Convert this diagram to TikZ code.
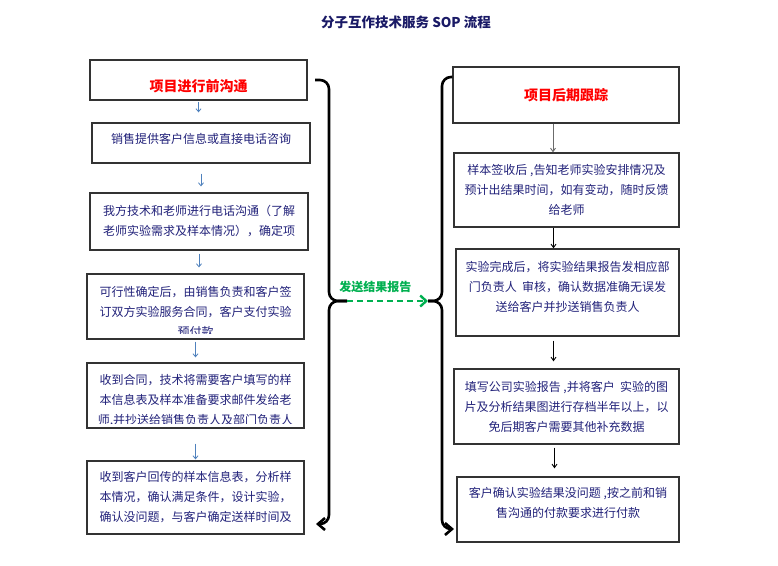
\documentclass[tikz,border=0pt]{standalone}
\usepackage{fontspec}
\usepackage{tikz}
\usetikzlibrary{arrows.meta,positioning}
\newfontfamily\cjk{Noto Sans CJK SC}
\definecolor{SOPNavy}{HTML}{22227A}
\definecolor{SOPTitle}{HTML}{1A1A66}
\definecolor{SOPRed}{HTML}{FF0000}
\definecolor{SOPGreen}{HTML}{00B050}
\definecolor{SOPLine}{HTML}{333333}
\definecolor{SOPBlue}{HTML}{4F81BD}
\definecolor{SOPGray}{HTML}{6B6B6B}
\tikzset{
 sopbox/.style={draw=SOPLine,line width=1.3pt,align=center,inner sep=0pt,text=SOPNavy,
  font=\cjk\fontsize{12pt}{20pt}\selectfont},
 soptext/.style={align=center,inner sep=0pt,text=SOPNavy,font=\cjk\fontsize{12pt}{20pt}\selectfont},
 sophead/.style={sopbox,text=SOPRed,font=\cjk\fontsize{14pt}{20pt}\selectfont\bfseries},
 prearrow/.style={draw=SOPBlue,line width=.8pt,-{Straight Barb[length=3pt,width=5pt]}},
 postarrow/.style={draw=black,line width=.9pt,-{Straight Barb[length=3.5pt,width=5pt]}},
 bracket/.style={draw=black,line width=2.6pt,rounded corners=9pt},
}
\begin{document}
\begin{tikzpicture}[x=1pt,y=-1pt,>=Latex]
\useasboundingbox[fill=white] (0,0) rectangle (778,565);
\node[font=\cjk\fontsize{13.5pt}{16pt}\selectfont\bfseries,text=SOPTitle] (title) at (406,22) {分子互作技术服务 SOP 流程};
% before the project
\node[sophead,minimum width=217pt,minimum height=40pt,text height=24pt,text depth=1.5pt] (pre0) at (198.5,80) {项目进行前沟通};
\node[sopbox,minimum width=218pt,minimum height=40pt,text depth=9pt] (pre1) at (201,143) {销售提供客户信息或直接电话咨询};
\node[sopbox,minimum width=218pt,minimum height=57pt] (pre2) at (199,221.5) {我方技术和老师进行电话沟通（了解\\老师实验需求及样本情况），确定项};
\node[sopbox,minimum width=217pt,minimum height=65pt,path picture={
  \clip ([yshift=6pt]path picture bounding box.south west) rectangle (path picture bounding box.north east);
  \node[soptext] at ([yshift=-5pt]path picture bounding box.center) {可行性确定后，由销售负责和客户签\\订双方实验服务合同，客户支付实验\\预付款};}] (pre3) at (195.5,306.5) {};
\node[sopbox,minimum width=217pt,minimum height=65pt,path picture={
  \clip ([yshift=4.5pt]path picture bounding box.south west) rectangle (path picture bounding box.north east);
  \node[soptext] at ([yshift=-5pt]path picture bounding box.center) {收到合同，技术将需要客户填写的样\\本信息表及样本准备要求邮件发给老\\师,并抄送给销售负责人及部门负责人};}] (pre4) at (195.5,395.5) {};
\node[sopbox,minimum width=217pt,minimum height=73pt] (pre5) at (195.5,497.5) {收到客户回传的样本信息表，分析样\\本情况，确认满足条件，设计实验，\\确认没问题，与客户确定送样时间及};
\draw[prearrow,shorten <=1pt,shorten >=10pt] (pre0.south) -- (pre0.south |- pre1.north);
\draw[prearrow,shorten <=10pt,shorten >=6pt] (pre1.south) -- (pre1.south |- pre2.north);
\draw[prearrow,shorten <=3pt,shorten >=6pt] (pre2.south) -- (pre2.south |- pre3.north);
\draw[prearrow,shorten <=2pt,shorten >=5pt] (pre3.south) -- (pre3.south |- pre4.north);
\draw[prearrow,shorten <=15pt,shorten >=1pt] (pre4.south) -- (pre4.south |- pre5.north);
% after the project
\node[sophead,minimum width=226pt,minimum height=56pt] (post0) at (566,95) {项目后期跟踪};
\node[sopbox,minimum width=225pt,minimum height=74pt] (post1) at (566.5,190) {样本签收后 ,告知老师实验安排情况及\\预计出结果时间，如有变动，随时反馈\\给老师};
\node[sopbox,minimum width=223pt,minimum height=87pt,path picture={
  \node[soptext] at ([yshift=6pt]path picture bounding box.center) {实验完成后，将实验结果报告发相应部\\门负责人\ \ 审核，确认数据准确无误发\\送给客户并抄送销售负责人};}] (post2) at (567.5,292.5) {};
\node[sopbox,minimum width=225pt,minimum height=75pt] (post3) at (566.5,406.5) {填写公司实验报告 ,并将客户\ \ 实验的图\\片及分析结果图进行存档半年以上，以\\免后期客户需要其他补充数据};
\node[sopbox,minimum width=222pt,minimum height=65pt,path picture={
  \node[soptext] at ([yshift=7pt]path picture bounding box.center) {客户确认实验结果没问题 ,按之前和销\\售沟通的付款要求进行付款};}] (post4) at (568,509.5) {};
\draw[postarrow,draw=SOPGray] ([xshift=-13pt]post0.south) -- ([xshift=-13pt]post0.south |- post1.north);
\draw[postarrow] ([xshift=-13pt]post1.south) -- ([xshift=-13pt]post1.south |- post2.north);
\draw[postarrow,shorten <=4pt,shorten >=7pt] ([xshift=-14pt]post2.south) -- ([xshift=-14pt]post2.south |- post3.north);
\draw[postarrow,shorten <=3pt,shorten >=8pt] ([xshift=-12pt]post3.south) -- ([xshift=-12pt]post3.south |- post4.north);
% the two brackets and the report
\coordinate (lbTop) at (315,80);
\coordinate (lbMid) at (347,301);
\coordinate (lbEnd) at (316,524);
\coordinate (rbTop) at (post0.west |- 0,77);
\coordinate (rbMid) at (428,301);
\coordinate (rbEnd) at (454,529);
\draw[bracket] (lbTop) -| (329,301) -- (lbMid);
\draw[bracket,-{Straight Barb[length=7pt,width=12pt]}] (lbMid) -| (329,524) -- (lbEnd);
\draw[bracket] (rbTop) -| (442,301) -- (rbMid);
\draw[bracket,-{Straight Barb[length=7pt,width=12pt]}] (rbMid) -| (442,529) -- (rbEnd);
\draw[draw=SOPGreen,line width=2.4pt,dash pattern=on 6pt off 4pt,-{Straight Barb[length=6pt,width=11pt]}] (lbMid) -- node[pos=.35,above=7pt,text=SOPGreen,inner sep=0pt,font=\cjk\fontsize{12pt}{14pt}\selectfont\bfseries] (report) {发送结果报告} (rbMid);
\end{tikzpicture}
\end{document}
